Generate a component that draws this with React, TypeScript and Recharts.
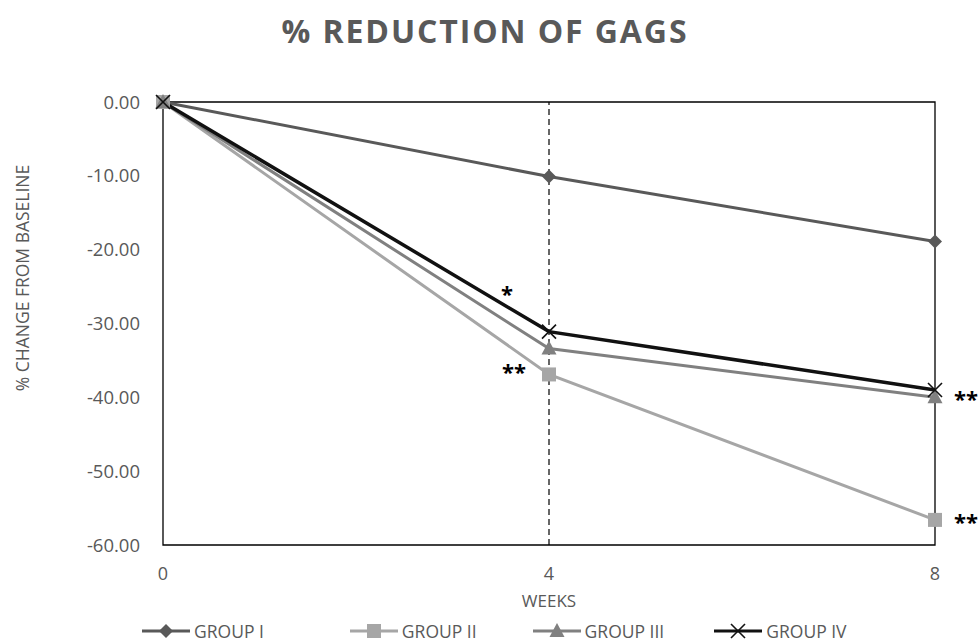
import React from "react";
import {
  Legend,
  LabelList,
  Line,
  LineChart,
  ReferenceArea,
  ReferenceLine,
  XAxis,
  YAxis,
} from "recharts";

// semanas medidas
const weeks = [0, 4, 8];

// % cambio desde la línea base, por grupo
const groupI = [0, -10.1, -18.9];
const groupII = [0, -36.9, -56.6];
const groupIII = [0, -33.4, -40.0];
const groupIV = [0, -31.1, -39.0];

// marcas de significancia por punto
const groupIISig = ["", "**", "**"];
const groupIIISig = ["", "", "**"];
const groupIVSig = ["", "*", ""];

const seriesNames = ["GROUP I", "GROUP II", "GROUP III", "GROUP IV"];
const yTicks = [0, -10, -20, -30, -40, -50, -60];
const xTicks = [0, 4, 8];

const data = weeks.map((w, i) => ({
  week: w,
  g1: groupI[i],
  g2: groupII[i],
  g3: groupIII[i],
  g4: groupIV[i],
  s2: groupIISig[i],
  s3: groupIIISig[i],
  s4: groupIVSig[i],
}));

const FONT = "'Open Sans', sans-serif";
const TXT = "#595959";

const colors = {
  g1: "#595959",
  g2: "#a6a6a6",
  g3: "#808080",
  g4: "#111111",
};

const Marker = ({ kind, cx, cy, color }: any) => {
  if (cx == null || cy == null) return null;
  if (kind === "diamond")
    return (
      <polygon
        points={`${cx},${cy - 7} ${cx + 7},${cy} ${cx},${cy + 7} ${cx - 7},${cy}`}
        fill={color}
      />
    );
  if (kind === "square")
    return <rect x={cx - 7} y={cy - 7} width={14} height={14} fill={color} />;
  if (kind === "triangle")
    return (
      <polygon
        points={`${cx},${cy - 8} ${cx + 7.5},${cy + 6} ${cx - 7.5},${cy + 6}`}
        fill={color}
      />
    );
  return (
    <g stroke={color} strokeWidth={1.6}>
      <line x1={cx - 7} y1={cy - 7} x2={cx + 7} y2={cy + 7} />
      <line x1={cx - 7} y1={cy + 7} x2={cx + 7} y2={cy - 7} />
    </g>
  );
};

const kinds: Record<string, string> = {
  g1: "diamond",
  g2: "square",
  g3: "triangle",
  g4: "x",
};

// asteriscos: izquierda en semana 4, derecha en semana 8
const SigLabel = (props: any) => {
  const { x, y, value, index, up } = props;
  if (!value) return null;
  let tx = x;
  let ty = y;
  if (index === 1 && up) {
    tx = x - 42;
    ty = y - 30;
  } else if (index === 1) {
    tx = x - 35;
    ty = y + 6;
  } else {
    tx = x + 31;
    ty = y + 10;
  }
  return (
    <text
      x={tx}
      y={ty}
      textAnchor="middle"
      fontFamily={FONT}
      fontWeight="bold"
      fontSize={22}
      fill="#000"
    >
      {value}
    </text>
  );
};

const legendGaps = [0, 84, 54, 48];

const LegendContent = () => (
  <div
    style={{
      display: "flex",
      alignItems: "center",
      paddingLeft: 67,
      height: 24,
      fontFamily: FONT,
      fontSize: 17.5,
      color: TXT,
    }}
  >
    {(["g1", "g2", "g3", "g4"] as const).map((k, i) => (
      <div
        key={k}
        style={{ display: "flex", alignItems: "center", marginLeft: legendGaps[i] }}
      >
        <svg width={52} height={20}>
          <line x1={2} y1={10} x2={50} y2={10} stroke={colors[k]} strokeWidth={3} />
          <Marker kind={kinds[k]} cx={26} cy={10} color={colors[k]} />
        </svg>
        <span style={{ marginLeft: 2 }}>{seriesNames[i]}</span>
      </div>
    ))}
  </div>
);

export default function App() {
  return (
    <div style={{ position: "absolute", left: 0, top: 0, width: 979, height: 643, background: "#fff" }}>
      <div
        style={{
          position: "absolute",
          top: 9,
          left: 0,
          width: 970,
          textAlign: "center",
          fontFamily: FONT,
          fontWeight: 700,
          fontSize: 32,
          letterSpacing: 1.9,
          color: TXT,
        }}
      >
        % REDUCTION OF GAGS
      </div>
      <LineChart
        width={979}
        height={643}
        data={data}
        margin={{ top: 102, right: 44, bottom: 0, left: 73 }}
      >
        <XAxis
          dataKey="week"
          type="number"
          domain={[0, 8]}
          ticks={xTicks}
          axisLine={false}
          tickLine={false}
          tickMargin={16}
          height={74}
          tick={{ fill: TXT, fontSize: 18, fontFamily: FONT }}
          label={{
            value: "WEEKS",
            position: "insideBottom",
            offset: 12,
            fill: TXT,
            fontSize: 17,
            fontFamily: FONT,
          }}
        />
        <YAxis
          type="number"
          domain={[-60, 0]}
          ticks={yTicks}
          width={90}
          axisLine={false}
          tickLine={false}
          tickMargin={17}
          tickFormatter={(v: number) => v.toFixed(2)}
          tick={{ fill: TXT, fontSize: 18.5, fontFamily: FONT }}
          label={{
            content: () => (
              <text
                x={22}
                y={278}
                transform="rotate(-90 22 278)"
                textAnchor="middle"
                dominantBaseline="central"
                fill={TXT}
                fontSize={17.5}
                fontFamily={FONT}
              >
                % CHANGE FROM BASELINE
              </text>
            ),
          }}
        />
        <ReferenceArea x1={0} x2={8} y1={-60} y2={0} fill="none" stroke="#000" strokeWidth={1.3} />
        <ReferenceLine x={4} stroke="#000" strokeWidth={1.2} strokeDasharray="6 4" />
        <Legend verticalAlign="bottom" height={24} content={<LegendContent />} />
        <Line
          dataKey="g1"
          name={seriesNames[0]}
          stroke={colors.g1}
          strokeWidth={3}
          isAnimationActive={false}
          dot={(p: any) => <Marker key={p.index} kind="diamond" cx={p.cx} cy={p.cy} color={colors.g1} />}
          activeDot={false}
        />
        <Line
          dataKey="g2"
          name={seriesNames[1]}
          stroke={colors.g2}
          strokeWidth={3}
          isAnimationActive={false}
          dot={(p: any) => <Marker key={p.index} kind="square" cx={p.cx} cy={p.cy} color={colors.g2} />}
          activeDot={false}
        >
          <LabelList dataKey="s2" content={(p: any) => <SigLabel {...p} />} />
        </Line>
        <Line
          dataKey="g3"
          name={seriesNames[2]}
          stroke={colors.g3}
          strokeWidth={3}
          isAnimationActive={false}
          dot={(p: any) => <Marker key={p.index} kind="triangle" cx={p.cx} cy={p.cy} color={colors.g3} />}
          activeDot={false}
        >
          <LabelList dataKey="s3" content={(p: any) => <SigLabel {...p} />} />
        </Line>
        <Line
          dataKey="g4"
          name={seriesNames[3]}
          stroke={colors.g4}
          strokeWidth={3.5}
          isAnimationActive={false}
          dot={(p: any) => <Marker key={p.index} kind="x" cx={p.cx} cy={p.cy} color={colors.g4} />}
          activeDot={false}
        >
          <LabelList dataKey="s4" content={(p: any) => <SigLabel {...p} up />} />
        </Line>
      </LineChart>
    </div>
  );
}
